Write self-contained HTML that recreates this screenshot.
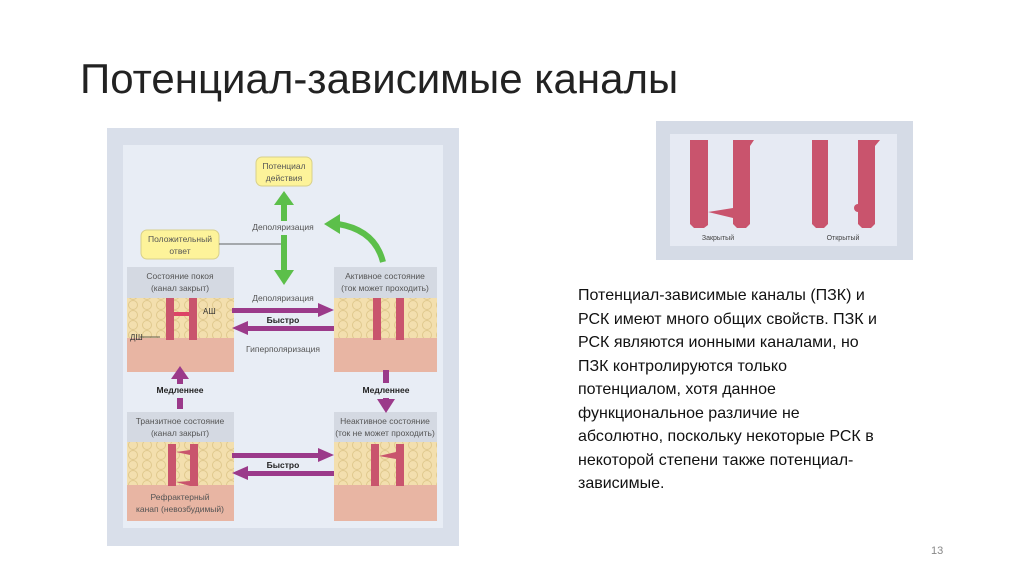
<!DOCTYPE html>
<html><head><meta charset="utf-8"><style>
body{margin:0;width:1024px;height:574px;background:#fff;position:relative;overflow:hidden;font-family:"Liberation Sans",sans-serif}
.t{position:absolute;left:80px;top:55px;font-size:42px;color:#222;white-space:nowrap}
.p{position:absolute;left:578px;top:284px;font-size:16px;line-height:23.5px;color:#111;white-space:nowrap}
.n{position:absolute;left:931px;top:545px;font-size:11px;color:#888}
svg{position:absolute;left:0;top:0}
</style></head><body>
<div class="t">Потенциал-зависимые каналы</div>
<div class="p">Потенциал-зависимые каналы (ПЗК) и<br>РСК имеют много общих свойств. ПЗК и<br>РСК являются ионными каналами, но<br>ПЗК контролируются только<br>потенциалом, хотя данное<br>функциональное различие не<br>абсолютно, поскольку некоторые РСК в<br>некоторой степени также потенциал-<br>зависимые.</div>
<div class="n">13</div>
<svg width="1024" height="574" font-family="Liberation Sans,sans-serif">
<defs>
<pattern id="lip" width="14" height="10" patternUnits="userSpaceOnUse"><rect width="14" height="10" fill="#f3dfae"/><circle cx="7" cy="5" r="4.5" fill="none" stroke="#e0c98e" stroke-width="1"/></pattern>
</defs>
<rect x="107" y="128" width="352" height="418" fill="#d9dfea"/>
<rect x="123" y="145" width="320" height="383" fill="#e8edf5"/>
<g>
<rect x="127" y="267" width="107" height="31" fill="#d4d9e2"/><rect x="127" y="298" width="107" height="40" fill="url(#lip)"/><rect x="127" y="338" width="107" height="34" fill="#e8b5a3"/>
<rect x="334" y="267" width="103" height="31" fill="#d4d9e2"/><rect x="334" y="298" width="103" height="40" fill="url(#lip)"/><rect x="334" y="338" width="103" height="34" fill="#e8b5a3"/>
<rect x="127" y="412" width="107" height="30" fill="#d4d9e2"/><rect x="127" y="442" width="107" height="43" fill="url(#lip)"/><rect x="127" y="485" width="107" height="36" fill="#e8b5a3"/>
<rect x="334" y="412" width="103" height="30" fill="#d4d9e2"/><rect x="334" y="442" width="103" height="43" fill="url(#lip)"/><rect x="334" y="485" width="103" height="36" fill="#e8b5a3"/>
</g>
<g fill="#c9546d">
<rect x="166" y="298" width="8" height="42"/><rect x="189" y="298" width="8" height="42"/><rect x="174" y="312" width="15" height="4" fill="#d46"/>
<rect x="373" y="298" width="8" height="42"/><rect x="396" y="298" width="8" height="42"/>
<rect x="168" y="444" width="8" height="42"/><rect x="190" y="444" width="8" height="42"/><polygon points="176,452 190,450 190,455"/><polygon points="176,482 190,481 190,486"/>
<rect x="371" y="444" width="8" height="42"/><rect x="396" y="444" width="8" height="42"/><polygon points="379,456 396,452 396,459"/>
</g>
<g font-size="8.5" fill="#555" text-anchor="middle">
<text x="180" y="279">Состояние покоя</text><text x="180" y="291">(канал закрыт)</text>
<text x="385" y="279">Активное состояние</text><text x="385" y="291">(ток может проходить)</text>
<text x="180" y="424">Транзитное состояние</text><text x="180" y="436">(канал закрыт)</text>
<text x="385" y="424">Неактивное состояние</text><text x="385" y="436">(ток не может проходить)</text>
<text x="180" y="500">Рефрактерный</text><text x="180" y="512">канап (невозбудимый)</text>
<text x="283" y="230">Деполяризация</text><text x="283" y="301">Деполяризация</text><text x="283" y="352">Гиперполяризация</text>
</g>
<g font-size="8" fill="#333"><text x="203" y="314">АШ</text><text x="130" y="340">ДШ</text></g>
<line x1="140" y1="337" x2="160" y2="337" stroke="#333" stroke-width=".7"/>
<rect x="256" y="157" width="56" height="29" rx="6" fill="#fdf39a" stroke="#d8d08a"/>
<text x="284" y="169" font-size="8.5" fill="#555" text-anchor="middle">Потенциал</text><text x="284" y="181" font-size="8.5" fill="#555" text-anchor="middle">действия</text>
<rect x="141" y="230" width="78" height="29" rx="6" fill="#fdf39a" stroke="#d8d08a"/>
<text x="180" y="242" font-size="8.5" fill="#555" text-anchor="middle">Положительный</text><text x="180" y="254" font-size="8.5" fill="#555" text-anchor="middle">ответ</text>
<line x1="219" y1="244" x2="282" y2="244" stroke="#333" stroke-width=".7"/>
<g fill="#5cbf4a">
<rect x="281" y="203" width="6" height="18"/><polygon points="274,205 284,191 294,205"/>
<rect x="281" y="235" width="6" height="38"/><polygon points="274,270 284,285 294,270"/>
</g>
<path d="M383,262 Q375,230 338,224" stroke="#5cbf4a" stroke-width="6" fill="none"/>
<polygon points="324,224 340,214 340,234" fill="#5cbf4a"/>
<g fill="#9b3a8a">
<rect x="232" y="308" width="88" height="5"/><polygon points="318,303 334,310 318,317"/>
<rect x="246" y="326" width="88" height="5"/><polygon points="248,321 232,328 248,335"/>
<rect x="232" y="453" width="88" height="5"/><polygon points="318,448 334,455 318,462"/>
<rect x="246" y="471" width="88" height="5"/><polygon points="248,466 232,473 248,480"/>
<rect x="177" y="378" width="6" height="6"/><polygon points="171,379 180,366 189,379"/>
<rect x="177" y="398" width="6" height="11"/>
<rect x="383" y="370" width="6" height="13"/>
<rect x="383" y="398" width="6" height="2"/><polygon points="377,399 386,413 395,399"/>
</g>
<g font-size="8.5" font-weight="bold" fill="#222" text-anchor="middle">
<text x="283" y="323">Быстро</text><text x="283" y="468">Быстро</text>
<text x="180" y="393">Медленнее</text><text x="386" y="393">Медленнее</text>
</g>
<rect x="656" y="121" width="257" height="139" fill="#d5dbe6"/>
<rect x="670" y="134" width="227" height="112" fill="#e6eaf3"/>
<g fill="#c9546d">
<polygon points="690,140 708,140 708,225 704,228 694,228 690,224"/>
<polygon points="733,140 754,140 750,146 750,224 746,228 737,228 733,224"/>
<polygon points="708,212 733,208 733,218"/>
<polygon points="812,140 828,140 828,224 824,228 816,228 812,224"/>
<polygon points="858,140 880,140 875,146 875,224 871,228 862,228 858,224"/>
<circle cx="858" cy="208" r="4"/>
</g>
<text x="718" y="240" font-size="7" fill="#444" text-anchor="middle">Закрытый</text>
<text x="843" y="240" font-size="7" fill="#444" text-anchor="middle">Открытый</text>
</svg>
</body></html>
